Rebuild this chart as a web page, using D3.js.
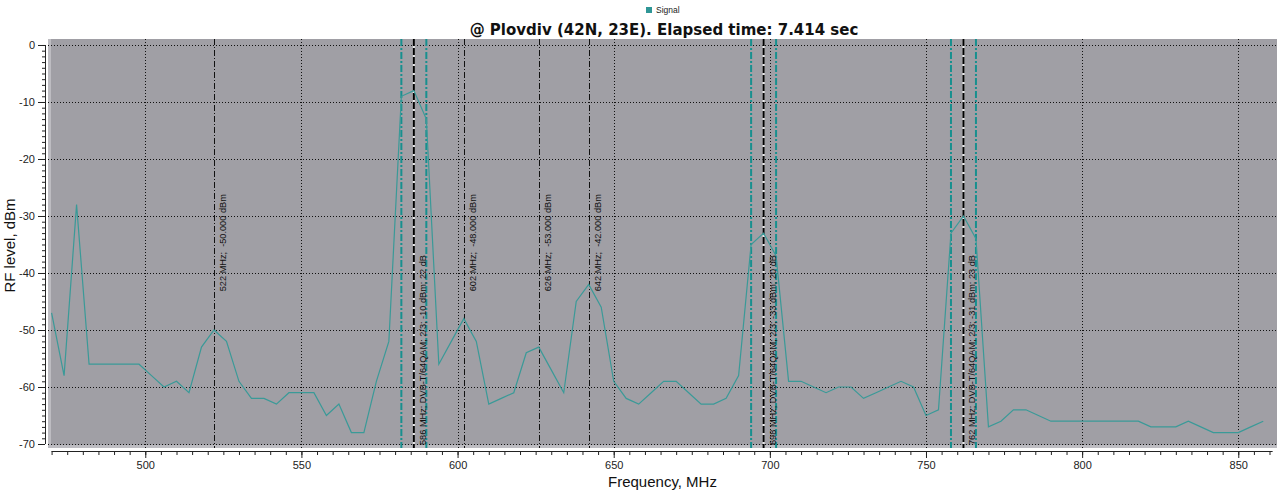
<!DOCTYPE html>
<html>
<head>
<meta charset="utf-8">
<script src="https://cdn.jsdelivr.net/npm/d3@7/dist/d3.min.js"></script>
<style>
  html, body { margin: 0; padding: 0; background: #fff; }
  svg { display: block; }
  text { font-family: "Liberation Sans", Arial, sans-serif; }
</style>
</head>
<body>
<div id="chart"></div>
<script>
// scan frequencies (MHz) and measured level (dBm)
const freqs = [470, 474, 478, 482, 486, 490, 494, 498, 502, 506,
  510, 514, 518, 522, 526, 530, 534, 538, 542, 546,
  550, 554, 558, 562, 566, 570, 574, 578, 582, 586,
  590, 594, 598, 602, 606, 610, 614, 618, 622, 626,
  630, 634, 638, 642, 646, 650, 654, 658, 662, 666,
  670, 674, 678, 682, 686, 690, 694, 698, 702, 706,
  710, 714, 718, 722, 726, 730, 734, 738, 742, 746,
  750, 754, 758, 762, 766, 770, 774, 778, 782, 786,
  790, 794, 798, 802, 806, 810, 814, 818, 822, 826,
  830, 834, 838, 842, 846, 850, 854, 858];
const levels = [-47, -58, -28, -56, -56, -56, -56, -56, -58, -60,
  -59, -61, -53, -50, -52, -59, -62, -62, -63, -61,
  -61, -61, -65, -63, -68, -68, -59, -52, -9, -8,
  -13, -56, -52, -48, -52, -63, -62, -61, -54, -53,
  -57, -61, -45, -42, -46, -59, -62, -63, -61, -59,
  -59, -61, -63, -63, -62, -58, -35, -33, -37, -59,
  -59, -60, -61, -60, -60, -62, -61, -60, -59, -60,
  -65, -64, -33, -30, -34, -67, -66, -64, -64, -65,
  -66, -66, -66, -66, -66, -66, -66, -66, -67, -67,
  -67, -66, -67, -68, -68, -68, -67, -66];

// single peak markers
const peakFreqs = [522, 602, 626, 642];
const peakLabels = ["522 MHz;  -50.000 dBm", "602 MHz;  -48.000 dBm",
  "626 MHz;  -53.000 dBm", "642 MHz;  -42.000 dBm"];

// DVB-T channels found
const channelFreqs = [586, 698, 762];
const channelLabels = ["586 MHz; DVB-T/64QAM; 2/3; -10 dBm; 22 dB",
  "698 MHz; DVB-T/64QAM; 2/3; -33 dBm; 20 dB",
  "762 MHz; DVB-T/64QAM; 2/3; -31 dBm; 23 dB"];
const channelHalfBw = 4;

const xTicks = [500, 550, 600, 650, 700, 750, 800, 850];
const yTicks = [0, -10, -20, -30, -40, -50, -60, -70];

const title = "@ Plovdiv (42N, 23E). Elapsed time: 7.414 sec";
const seriesName = "Signal";

const width = 1280, height = 490;
const plot = {left: 48, right: 1277, top: 39, bottom: 448};
const teal = "#2f9696";

const svg = d3.select("#chart").append("svg")
  .attr("width", width)
  .attr("height", height);

const x = d3.scaleLinear().domain([468.85, 862.4]).range([plot.left, plot.right]);
const y = d3.scaleLinear().domain([1.05, -70.7]).range([plot.top, plot.bottom]);

// plot background
svg.append("rect")
  .attr("x", plot.left).attr("y", plot.top)
  .attr("width", plot.right - plot.left)
  .attr("height", plot.bottom - plot.top)
  .attr("fill", "#a09fa5");
svg.append("rect")
  .attr("x", plot.left).attr("y", plot.top)
  .attr("width", 3).attr("height", plot.bottom - plot.top)
  .attr("fill", "#bdbcc1");
svg.append("rect")
  .attr("x", plot.left).attr("y", plot.bottom - 3)
  .attr("width", plot.right - plot.left).attr("height", 3)
  .attr("fill", "#bdbcc1");

// grid
const grid = svg.append("g")
  .attr("stroke", "#111")
  .attr("stroke-width", 1)
  .attr("stroke-dasharray", "1,2");
grid.selectAll(".hg")
  .data(yTicks)
  .enter().append("line")
  .attr("x1", plot.left).attr("x2", plot.right)
  .attr("y1", d => Math.round(y(d)) + 0.5)
  .attr("y2", d => Math.round(y(d)) + 0.5);
grid.selectAll(".vg")
  .data(xTicks)
  .enter().append("line")
  .attr("y1", plot.top).attr("y2", plot.bottom)
  .attr("x1", d => Math.round(x(d)) + 0.5)
  .attr("x2", d => Math.round(x(d)) + 0.5);

// peak markers
svg.append("g").selectAll("line")
  .data(peakFreqs)
  .enter().append("line")
  .attr("x1", d => Math.round(x(d)) + 0.5)
  .attr("x2", d => Math.round(x(d)) + 0.5)
  .attr("y1", plot.top).attr("y2", plot.bottom)
  .attr("stroke", "#111")
  .attr("stroke-width", 1)
  .attr("stroke-dasharray", "6,2,1,2");

// channel markers: edges + centre
const chan = svg.append("g");
channelFreqs.forEach(c => {
  [c - channelHalfBw, c + channelHalfBw].forEach(f => {
    chan.append("line")
      .attr("x1", x(f)).attr("x2", x(f))
      .attr("y1", plot.top).attr("y2", plot.bottom)
      .attr("stroke", "#17908f")
      .attr("stroke-width", 2)
      .attr("stroke-dasharray", "7,2,2,2");
  });
  chan.append("line")
    .attr("x1", x(c)).attr("x2", x(c))
    .attr("y1", plot.top).attr("y2", plot.bottom)
    .attr("stroke", "#e8e8e8")
    .attr("stroke-width", 2);
  chan.append("line")
    .attr("x1", x(c)).attr("x2", x(c))
    .attr("y1", plot.top).attr("y2", plot.bottom)
    .attr("stroke", "#000")
    .attr("stroke-width", 2)
    .attr("stroke-dasharray", "7,2");
});

// signal
const pts = freqs.map((f, i) => [f, levels[i]]);
svg.append("path")
  .datum(pts)
  .attr("fill", "none")
  .attr("stroke", "#3a9a98")
  .attr("stroke-width", 1.2)
  .attr("d", d3.line().x(d => x(d[0])).y(d => y(d[1])));

// marker labels
svg.append("g").selectAll("text")
  .data(peakFreqs)
  .enter().append("text")
  .attr("transform", d => `translate(${x(d) + 12},${y(-43.2)}) rotate(-90)`)
  .attr("xml:space", "preserve")
  .style("white-space", "pre")
  .attr("font-size", "9.2px")
  .attr("fill", "#111")
  .text((d, i) => peakLabels[i]);

svg.append("g").selectAll("text")
  .data(channelFreqs)
  .enter().append("text")
  .attr("transform", d => `translate(${x(d) + 12},${plot.bottom - 3}) rotate(-90)`)
  .attr("font-size", "9.2px")
  .attr("fill", "#111")
  .text((d, i) => channelLabels[i]);

// y axis
const yAxisX = plot.left - 3;
const yMinor = svg.append("g")
  .attr("transform", `translate(${yAxisX},0)`)
  .call(d3.axisLeft(y).tickValues(d3.range(0, -70.5, -1)).tickSize(3).tickFormat(""));
yMinor.select(".domain").remove();
const yAx = svg.append("g")
  .attr("transform", `translate(${yAxisX},0)`)
  .call(d3.axisLeft(y).tickValues(yTicks).tickSize(7).tickFormat(d => String(d)));
yAx.select(".domain").remove();
svg.append("line")
  .attr("x1", yAxisX + 0.5).attr("x2", yAxisX + 0.5)
  .attr("y1", y(0)).attr("y2", y(-70))
  .attr("stroke", "#222");

// x axis
const xAxisY = plot.bottom + 3;
const xMinor = svg.append("g")
  .attr("transform", `translate(0,${xAxisY})`)
  .call(d3.axisBottom(x).tickValues(d3.range(470, 861, 5)).tickSize(4).tickFormat(""));
xMinor.select(".domain").remove();
const xAx = svg.append("g")
  .attr("transform", `translate(0,${xAxisY})`)
  .call(d3.axisBottom(x).tickValues(xTicks).tickSize(7));
xAx.select(".domain").remove();
svg.append("line")
  .attr("x1", x(470)).attr("x2", x(861))
  .attr("y1", xAxisY + 0.5).attr("y2", xAxisY + 0.5)
  .attr("stroke", "#222");

svg.selectAll(".tick line").attr("stroke", "#222");
svg.selectAll(".tick text")
  .attr("font-family", "'Liberation Sans', Arial, sans-serif")
  .attr("font-size", "11px")
  .attr("fill", "#222");

// axis titles
svg.append("text")
  .attr("x", (plot.left + plot.right) / 2)
  .attr("y", 487)
  .attr("text-anchor", "middle")
  .attr("font-size", "15px")
  .attr("fill", "#111")
  .text("Frequency, MHz");
svg.append("text")
  .attr("transform", `translate(15,${(plot.top + plot.bottom) / 2 + 2}) rotate(-90)`)
  .attr("text-anchor", "middle")
  .attr("font-size", "15px")
  .attr("fill", "#111")
  .text("RF level, dBm");

// title
svg.append("text")
  .attr("x", 664)
  .attr("y", 35)
  .attr("text-anchor", "middle")
  .style("font-family", "'DejaVu Sans', Verdana, sans-serif")
  .attr("font-weight", "bold")
  .attr("font-size", "15px")
  .attr("fill", "#111")
  .text(title);

// legend
svg.append("rect")
  .attr("x", 646).attr("y", 7)
  .attr("width", 6).attr("height", 6)
  .attr("fill", teal);
svg.append("text")
  .attr("x", 656).attr("y", 13)
  .attr("font-size", "8.5px")
  .attr("fill", "#222")
  .text(seriesName);
</script>
</body>
</html>
